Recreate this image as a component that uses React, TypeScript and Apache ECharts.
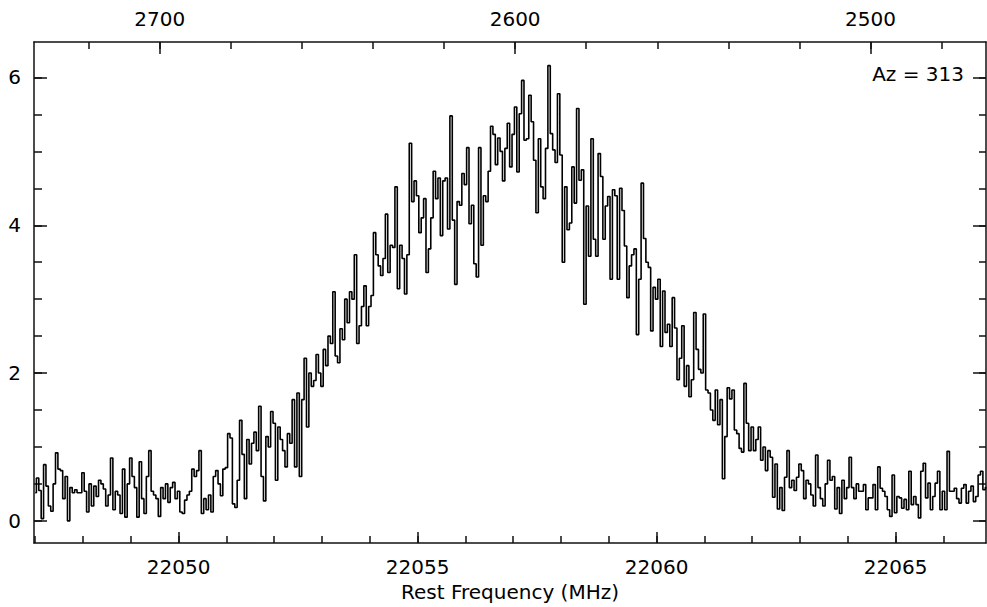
import React, { useEffect, useRef } from "react";
import * as echarts from "echarts";

// Channel grid of the spectrum (rest frequency, MHz)
const FREQ_START = 22047.0;
const FREQ_STEP = 0.05;

// Intensity per channel, left to right
const leftBaseline = [
  0.38, 0.58, 0.41, 0.03, 0.76, 0.47, 0.2, 0.13, 0.5, 0.92,
  0.7, 0.68, 0.3, 0.6, 0.0, 0.45, 0.38, 0.42, 0.38, 0.38,
  0.65, 0.4, 0.12, 0.5, 0.2, 0.47, 0.33, 0.55, 0.5, 0.43,
  0.2, 0.35, 0.85, 0.15, 0.4, 0.35, 0.1, 0.7, 0.05, 0.5,
  0.85, 0.6, 0.45, 0.05, 0.8, 0.3, 0.1, 0.6, 0.95, 0.4,
  0.35, 0.3, 0.06, 0.45, 0.3, 0.5, 0.25, 0.45, 0.52, 0.3,
  0.4, 0.12, 0.1, 0.28, 0.35, 0.4, 0.7, 0.6, 0.68, 0.95,
];
const risingWing = [
  0.1, 0.3, 0.15, 0.35, 0.12, 0.6, 0.68, 0.5, 0.34, 0.7,
  0.72, 1.18, 1.12, 0.23, 0.18, 0.55, 1.36, 0.9, 0.3, 1.1,
  0.77, 1.05, 1.2, 0.95, 1.55, 0.6, 0.27, 1.14, 1.0, 1.48,
  1.32, 0.55, 1.27, 1.1, 0.95, 0.73, 1.18, 1.05, 1.64, 0.73,
  1.73, 0.6, 1.64, 2.2, 1.27, 2.0, 1.82, 1.9, 2.25, 2.0,
  1.82, 2.32, 2.1, 2.5, 2.4, 3.1, 2.23, 2.14, 2.6, 2.45,
  3.0, 2.68, 3.1, 3.0, 3.6, 2.4, 2.64,
];
const peakCore = [
  2.9, 3.18, 2.64, 2.9, 3.05, 3.9, 3.6, 3.45, 3.32, 3.55,
  4.15, 3.36, 3.73, 3.7, 4.52, 3.14, 3.73, 3.55, 3.07, 3.6,
  5.11, 4.32, 4.6, 4.4, 3.9, 4.1, 4.36, 3.36, 3.68, 4.1,
  4.73, 4.36, 4.64, 3.86, 4.6, 4.64, 3.95, 5.48, 4.07, 3.2,
  4.32, 4.27, 4.7, 4.55, 5.05, 4.02, 4.27, 3.48, 3.3, 5.05,
  3.73, 4.4, 4.32, 4.73, 5.34, 5.23, 4.82, 5.18,
  5.0, 4.6, 5.04, 5.38, 4.79, 5.23, 5.6, 4.72, 5.51, 5.96,
  5.15, 5.17, 5.76, 5.4, 4.88, 4.17, 5.17, 4.52, 4.36, 5.04,
  6.16, 5.24, 5.02, 4.85, 5.78, 4.95, 3.5, 4.52, 3.94, 4.03,
  4.79, 4.3, 5.58, 4.61, 4.75, 2.93, 4.26, 3.58, 5.17, 3.81,
  3.58, 4.97, 4.66, 3.81, 4.26, 4.39, 3.27, 4.48,
];
const fallingWing = [
  4.4, 3.27, 4.5, 4.2, 3.72, 3.02, 3.45, 3.6, 3.68, 2.52,
  3.27, 4.57, 3.82, 3.5, 3.43, 2.57, 3.16, 3.0, 3.27, 2.36,
  3.11, 2.55, 2.66, 2.36, 3.02, 2.61, 1.91, 2.2, 2.64, 1.82,
  2.1, 1.68, 1.91, 2.82, 2.32, 2.05, 2.0, 2.8, 1.77, 1.73,
  1.5, 1.36, 1.77, 1.3, 1.64, 0.57, 1.14, 1.8, 1.65, 1.77,
  1.23, 1.18, 0.98, 0.93, 1.86, 1.32, 0.95, 1.27, 0.95, 1.1,
  1.27, 0.82, 1.0, 0.68, 0.95, 0.86, 0.32, 0.77, 0.16, 0.45,
  0.14, 0.59, 0.95, 0.45, 0.55, 0.41, 0.59, 0.77, 0.68, 0.3,
  0.55, 0.5, 0.35, 0.2, 0.89, 0.45, 0.3, 0.2, 0.5, 0.82,
  0.55, 0.6, 0.16, 0.45,
];
const rightBaseline = [
  0.1, 0.55, 0.3, 0.45, 0.86, 0.45, 0.3, 0.5, 0.4, 0.4,
  0.49, 0.15, 0.31, 0.31, 0.49, 0.15, 0.73, 0.44, 0.4, 0.33,
  0.15, 0.06, 0.62, 0.11, 0.33, 0.31, 0.17, 0.29, 0.15, 0.67,
  0.22, 0.33, 0.22, 0.04, 0.67, 0.78, 0.31, 0.51, 0.15, 0.33,
  0.51, 0.67, 0.15, 0.4, 0.15, 0.94, 0.4, 0.4, 0.44, 0.3,
  0.24, 0.44, 0.49, 0.24, 0.4, 0.47, 0.26, 0.33, 0.62, 0.67,
  0.42, 0.45,
];

// Axis ranges and ticks
const FREQ_MIN = 22046.975;
const FREQ_MAX = 22066.89;
const VEL_AT_LEFT = 2735.4;
const VEL_AT_RIGHT = 2467.5;
const Y_MIN = -0.3;
const Y_MAX = 6.48;

const freqMajorTicks = [22050, 22055, 22060, 22065];
const freqMinorTicks = [
  22047, 22048, 22049, 22050, 22051, 22052, 22053, 22054, 22055, 22056,
  22057, 22058, 22059, 22060, 22061, 22062, 22063, 22064, 22065, 22066,
];
const velMajorTicks = [2500, 2600, 2700];
const velMinorTicks = [
  2480, 2500, 2520, 2540, 2560, 2580, 2600, 2620, 2640, 2660, 2680, 2700, 2720,
];
const yMajorTicks = [0, 2, 4, 6];
const yMinorTicks = [0, 0.5, 1, 1.5, 2, 2.5, 3, 3.5, 4, 4.5, 5, 5.5, 6];

const xTitle = "Rest Frequency (MHz)";
const annotation = "Az = 313";

const FONT = "DejaVu Sans";
const FRAME = "#111";

export default function App() {
  const ref = useRef<HTMLDivElement>(null);

  useEffect(() => {
    if (!ref.current) return;
    const chart = echarts.init(ref.current, undefined, { renderer: "svg" });

    const spectrum = [
      ...leftBaseline,
      ...risingWing,
      ...peakCore,
      ...fallingWing,
      ...rightBaseline,
    ];
    const data = spectrum.map((v, i) => [
      +(FREQ_START + i * FREQ_STEP).toFixed(3),
      v,
    ]);

    const label = {
      fontFamily: FONT,
      fontSize: 20,
      color: "#000",
      formatter: (v: number) => String(v),
    };
    const line = { show: true, onZero: false, lineStyle: { color: FRAME, width: 1.5 } };
    const noLine = { show: false, onZero: false };
    const tickStyle = { color: FRAME, width: 1.5 };

    chart.setOption({
      animation: false,
      backgroundColor: "#fff",
      grid: { left: 34, right: 1, top: 42, bottom: 61 },
      xAxis: [
        {
          type: "value",
          position: "bottom",
          min: FREQ_MIN,
          max: FREQ_MAX,
          axisLine: line,
          axisTick: {
            show: true,
            inside: true,
            length: 11,
            customValues: freqMajorTicks,
            lineStyle: tickStyle,
          },
          axisLabel: { ...label, margin: 14, customValues: freqMajorTicks },
          splitLine: { show: false },
          name: xTitle,
          nameLocation: "middle",
          nameGap: 39,
          nameTextStyle: { fontFamily: FONT, fontSize: 20, color: "#000" },
        },
        {
          type: "value",
          position: "bottom",
          min: FREQ_MIN,
          max: FREQ_MAX,
          axisLine: noLine,
          axisTick: {
            show: true,
            inside: true,
            length: 7,
            customValues: freqMinorTicks,
            lineStyle: tickStyle,
          },
          axisLabel: { show: false },
          splitLine: { show: false },
        },
        {
          type: "value",
          position: "top",
          min: VEL_AT_RIGHT,
          max: VEL_AT_LEFT,
          inverse: true,
          axisLine: line,
          axisTick: {
            show: true,
            inside: true,
            length: 12,
            customValues: velMajorTicks,
            lineStyle: tickStyle,
          },
          axisLabel: { ...label, margin: 13, customValues: velMajorTicks },
          splitLine: { show: false },
        },
        {
          type: "value",
          position: "top",
          min: VEL_AT_RIGHT,
          max: VEL_AT_LEFT,
          inverse: true,
          axisLine: noLine,
          axisTick: {
            show: true,
            inside: true,
            length: 7,
            customValues: velMinorTicks,
            lineStyle: tickStyle,
          },
          axisLabel: { show: false },
          splitLine: { show: false },
        },
      ],
      yAxis: [
        {
          type: "value",
          position: "left",
          min: Y_MIN,
          max: Y_MAX,
          axisLine: line,
          axisTick: {
            show: true,
            inside: true,
            length: 13,
            customValues: yMajorTicks,
            lineStyle: tickStyle,
          },
          axisLabel: { ...label, margin: 13, customValues: yMajorTicks },
          splitLine: { show: false },
        },
        {
          type: "value",
          position: "left",
          min: Y_MIN,
          max: Y_MAX,
          axisLine: noLine,
          axisTick: {
            show: true,
            inside: true,
            length: 8,
            customValues: yMinorTicks,
            lineStyle: tickStyle,
          },
          axisLabel: { show: false },
          splitLine: { show: false },
        },
        {
          type: "value",
          position: "right",
          min: Y_MIN,
          max: Y_MAX,
          axisLine: line,
          axisTick: {
            show: true,
            inside: true,
            length: 13,
            customValues: yMajorTicks,
            lineStyle: tickStyle,
          },
          axisLabel: { show: false },
          splitLine: { show: false },
        },
        {
          type: "value",
          position: "right",
          min: Y_MIN,
          max: Y_MAX,
          axisLine: noLine,
          axisTick: {
            show: true,
            inside: true,
            length: 7,
            customValues: yMinorTicks,
            lineStyle: tickStyle,
          },
          axisLabel: { show: false },
          splitLine: { show: false },
        },
      ],
      graphic: [
        {
          type: "text",
          right: 23,
          top: 64,
          style: {
            text: annotation,
            fontFamily: FONT,
            fontSize: 20,
            fill: "#000",
          },
        },
      ],
      series: [
        {
          type: "line",
          xAxisIndex: 0,
          yAxisIndex: 0,
          step: "middle",
          data,
          showSymbol: false,
          symbol: "none",
          lineStyle: { color: "#000", width: 1.6 },
          clip: true,
        },
      ],
    });

    return () => chart.dispose();
  }, []);

  return (
    <div
      ref={ref}
      style={{
        position: "fixed",
        left: 0,
        top: 0,
        width: 987,
        height: 607,
        background: "#fff",
      }}
    />
  );
}
